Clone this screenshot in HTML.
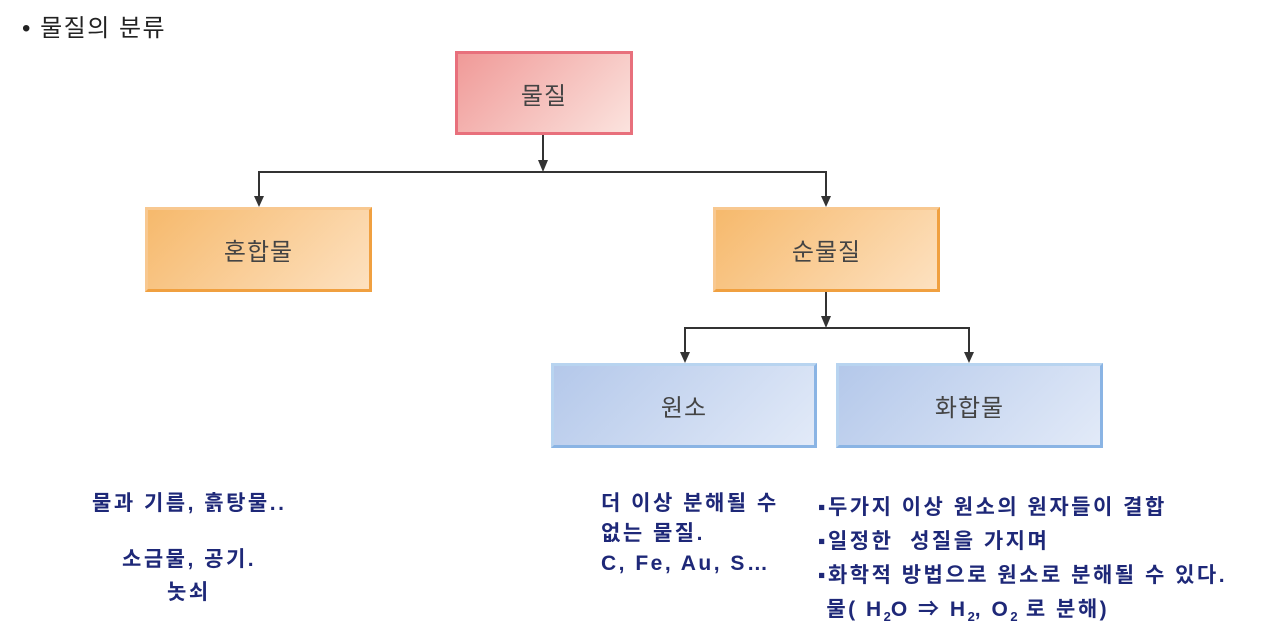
<!DOCTYPE html>
<html><head><meta charset="utf-8"><style>
body{margin:0;width:1261px;height:643px;background:#fff;position:relative;overflow:hidden;font-family:"Liberation Sans","Noto Sans CJK KR",sans-serif}
.b{position:absolute;box-sizing:border-box;display:flex;align-items:center;justify-content:center;font-size:24px;letter-spacing:1px;color:#444}
.r{background:linear-gradient(135deg,#f09a98,#fbe3de);border:3px solid #e8707c}
.o{background:linear-gradient(135deg,#f6b96c,#fde1c0);border:3px solid #f0a040;border-top-color:#f8c890;border-left-color:#f8c890}
.u{background:linear-gradient(135deg,#b4c8ea,#e2eaf8);border:3px solid #8ab4e4;border-top-color:#b8d4f0;border-left-color:#b8d4f0}
.t{position:absolute;font-size:21px;font-weight:bold;color:#1e2878;white-space:nowrap;letter-spacing:2.5px}
</style></head><body>
<div style="position:absolute;left:22px;top:8px;font-size:24px;color:#222;letter-spacing:1.5px">•&nbsp;물질의 분류</div>
<svg style="position:absolute;left:0;top:0" width="1261" height="643">
<g stroke="#333" stroke-width="2" fill="none">
<line x1="543" y1="135" x2="543" y2="166"/>
<polyline points="259,200 259,172 826,172 826,200"/>
<line x1="826" y1="292" x2="826" y2="320"/>
<polyline points="685,356 685,328 969,328 969,356"/>
</g>
<g fill="#333">
<polygon points="538,160 548,160 543,172"/>
<polygon points="254,196 264,196 259,207"/>
<polygon points="821,196 831,196 826,207"/>
<polygon points="821,316 831,316 826,328"/>
<polygon points="680,352 690,352 685,363"/>
<polygon points="964,352 974,352 969,363"/>
</g>
</svg>
<div class="b r" style="left:455px;top:51px;width:178px;height:84px">물질</div>
<div class="b o" style="left:145px;top:207px;width:227px;height:85px">혼합물</div>
<div class="b o" style="left:713px;top:207px;width:227px;height:85px">순물질</div>
<div class="b u" style="left:551px;top:363px;width:266px;height:85px">원소</div>
<div class="b u" style="left:836px;top:363px;width:267px;height:85px">화합물</div>
<div class="t" style="left:92px;top:487px">물과 기름, 흙탕물..</div>
<div class="t" style="left:122px;top:543px">소금물, 공기.</div>
<div class="t" style="left:167px;top:576px">놋쇠</div>
<div class="t" style="left:601px;top:489px;line-height:30px">더 이상 분해될 수<br>없는 물질.<br>C, Fe, Au, S…</div>
<div class="t" style="left:818px;top:491px;line-height:34px">▪두가지 이상 원소의 원자들이 결합<br>▪일정한&nbsp; 성질을 가지며<br>▪화학적 방법으로 원소로 분해될 수 있다.<br>&nbsp;물( H<sub style="font-size:13px;letter-spacing:0">2</sub>O ⇒ H<sub style="font-size:13px;letter-spacing:0">2</sub>, O<sub style="font-size:13px;letter-spacing:0">2</sub> 로 분해)</div>
</body></html>
